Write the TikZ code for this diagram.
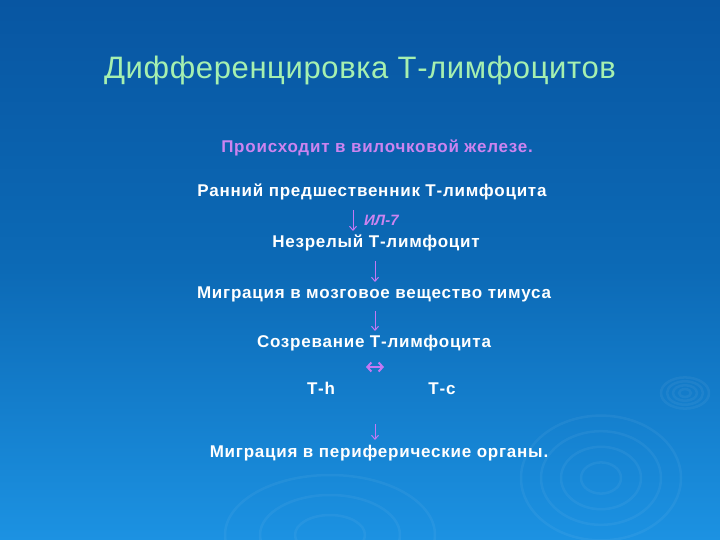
\documentclass[tikz,border=0pt]{standalone}
\usepackage{fontspec}
\usetikzlibrary{arrows.meta}
\setmainfont{Liberation Sans}
\newfontfamily\titlefont[LetterSpace=2]{Liberation Sans}
\newfontfamily\bodyfont[LetterSpace=4.5]{Liberation Sans}
\definecolor{bgtop}{RGB}{8,86,162}
\definecolor{bgmid}{RGB}{12,106,182}
\definecolor{bgbot}{RGB}{28,146,226}
\definecolor{titlegreen}{RGB}{166,240,176}
\definecolor{violet}{RGB}{204,132,240}
\definecolor{arrowviolet}{RGB}{196,120,244}
\begin{document}
\begin{tikzpicture}[x=1pt,y=-1pt,
  titletext/.style={font=\titlefont\fontsize{31}{34}\selectfont, text=titlegreen, inner sep=0pt},
  bodytext/.style={font=\bodyfont\fontsize{17}{20}\selectfont\bfseries, text=white, inner sep=0pt},
  notetext/.style={font=\bodyfont\fontsize{17}{20}\selectfont\bfseries, text=violet, inner sep=0pt},
  labeltext/.style={font=\fontsize{15}{17}\selectfont\bfseries\itshape, text=violet, inner sep=0pt},
  thinarrow/.style={draw=arrowviolet, line width=1pt, -{Straight Barb[length=4pt,width=7pt]}},
  boldarrow/.style={draw=arrowviolet, line width=2pt, {Straight Barb[length=4pt,width=9pt]}-{Straight Barb[length=4pt,width=9pt]}},
  ripple/.style={draw=white, draw opacity=0.05, line width=2.5pt}
]
\useasboundingbox (0,0) rectangle (720,540);
\shade[top color=bgtop, bottom color=bgbot, middle color=bgmid] (0,0) rectangle (720,540);
% ripples
\foreach \r in {6,12,18,24} {\draw[ripple] (685,393) ellipse ({\r} and {\r*0.65});}
\foreach \r in {20,40,60,80} {\draw[ripple] (601,478) ellipse ({\r} and {\r*0.78});}
\foreach \r in {25,50,75} {\draw[ripple] (330,535) ellipse ({\r*1.4} and {\r*0.8});}
% texts
\node[titletext] (title) at (360,70) {Дифференцировка Т-лимфоцитов};
\node[notetext] (place) at (377,148) {Происходит в вилочковой железе.};
\node[bodytext] (early) at (372,192) {Ранний предшественник Т-лимфоцита};
\node[labeltext, anchor=west] (il7) at (364,220) {ИЛ-7};
\node[bodytext] (immature) at (376,243) {Незрелый Т-лимфоцит};
\node[bodytext] (migr1) at (374,294) {Миграция в мозговое вещество тимуса};
\node[bodytext] (mature) at (374,343) {Созревание Т-лимфоцита};
\node[bodytext, anchor=base] (th) at (321,394) {Т-h};
\node[bodytext, anchor=base] (tc) at (442,394) {Т-с};
\node[bodytext] (migr2) at (379,453) {Миграция в периферические органы.};
% arrows
\coordinate (a1s) at (353,210); \coordinate (a1e) at (353,231);
\coordinate (a2s) at (375,261); \coordinate (a2e) at (375,282);
\coordinate (a3s) at (375,311); \coordinate (a3e) at (375,331);
\coordinate (a4s) at (366,367); \coordinate (a4e) at (384,367);
\coordinate (a5s) at (375,424); \coordinate (a5e) at (375,440);
\draw[thinarrow] (a1s) -- (a1e);
\draw[thinarrow] (a2s) -- (a2e);
\draw[thinarrow] (a3s) -- (a3e);
\draw[boldarrow] (a4s) -- (a4e);
\draw[thinarrow] (a5s) -- (a5e);
\end{tikzpicture}
\end{document}
